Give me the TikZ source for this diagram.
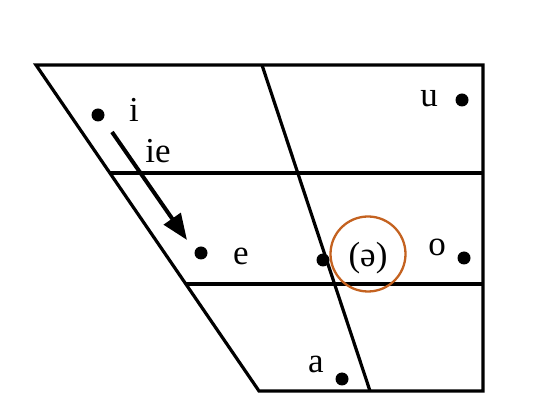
\documentclass[tikz,border=0pt]{standalone}
\usepackage{fontspec}
\setmainfont{Liberation Serif}
\usetikzlibrary{arrows.meta,positioning,calc}
\definecolor{ringOrange}{RGB}{196,98,32}

\begin{document}
\begin{tikzpicture}[x=1pt,y=-1pt,line width=3.2pt,
        dot/.style={circle,fill=black,minimum size=13pt,inner sep=0pt},
        vowel/.style={font=\fontsize{35}{35}\selectfont,inner sep=0pt,anchor=base},
        ring/.style={circle,draw=ringOrange,line width=2.3pt,minimum size=75pt,inner sep=0pt}]
  \useasboundingbox (0,0) rectangle (560,419);
  % chart frame
  \coordinate (tl) at (36,65);
  \coordinate (tm) at (262,65);
  \coordinate (tr) at (483,65);
  \coordinate (bl) at (259,391);
  \coordinate (bm) at (370,391);
  \coordinate (br) at (483,391);
  \coordinate (ml) at ($(tl)!0.331!(bl)$);
  \coordinate (ll) at ($(tl)!0.672!(bl)$);
  \draw[line join=miter] (tl) -- (tr) -- (br) -- (bl) -- cycle;
  \draw (tm) -- (bm);
  \draw (ml) -- (ml -| tr);
  \draw (ll) -- (ll -| tr);
  % vowels
  \foreach \n/\x/\y in {i/98/115,e/201/253,schwa/323/260,o/464/258,u/462/100,a/342/379}
    \node[dot] (d\n) at (\x,\y) {};
  \node[vowel] (li) at (134,122) {i};
  \node[vowel] (lie) at (158,163) {ie};
  \node[vowel] (le) at (241,265) {e};
  \node[vowel] (lschwa) at (368,267) {(ə)};
  \node[vowel] (lo) at (437,256) {o};
  \node[vowel] (lu) at (429,107) {u};
  \node[vowel] (la) at (316,373) {a};
  \node[ring] (mark) at (368,254) {};
  % glide i -> e
  \coordinate (gs) at (112,132);
  \coordinate (ge) at (187,240);
  \draw[-{Triangle[length=26pt,width=20pt]},line width=4pt] (gs) -- (ge);
\end{tikzpicture}
\end{document}
